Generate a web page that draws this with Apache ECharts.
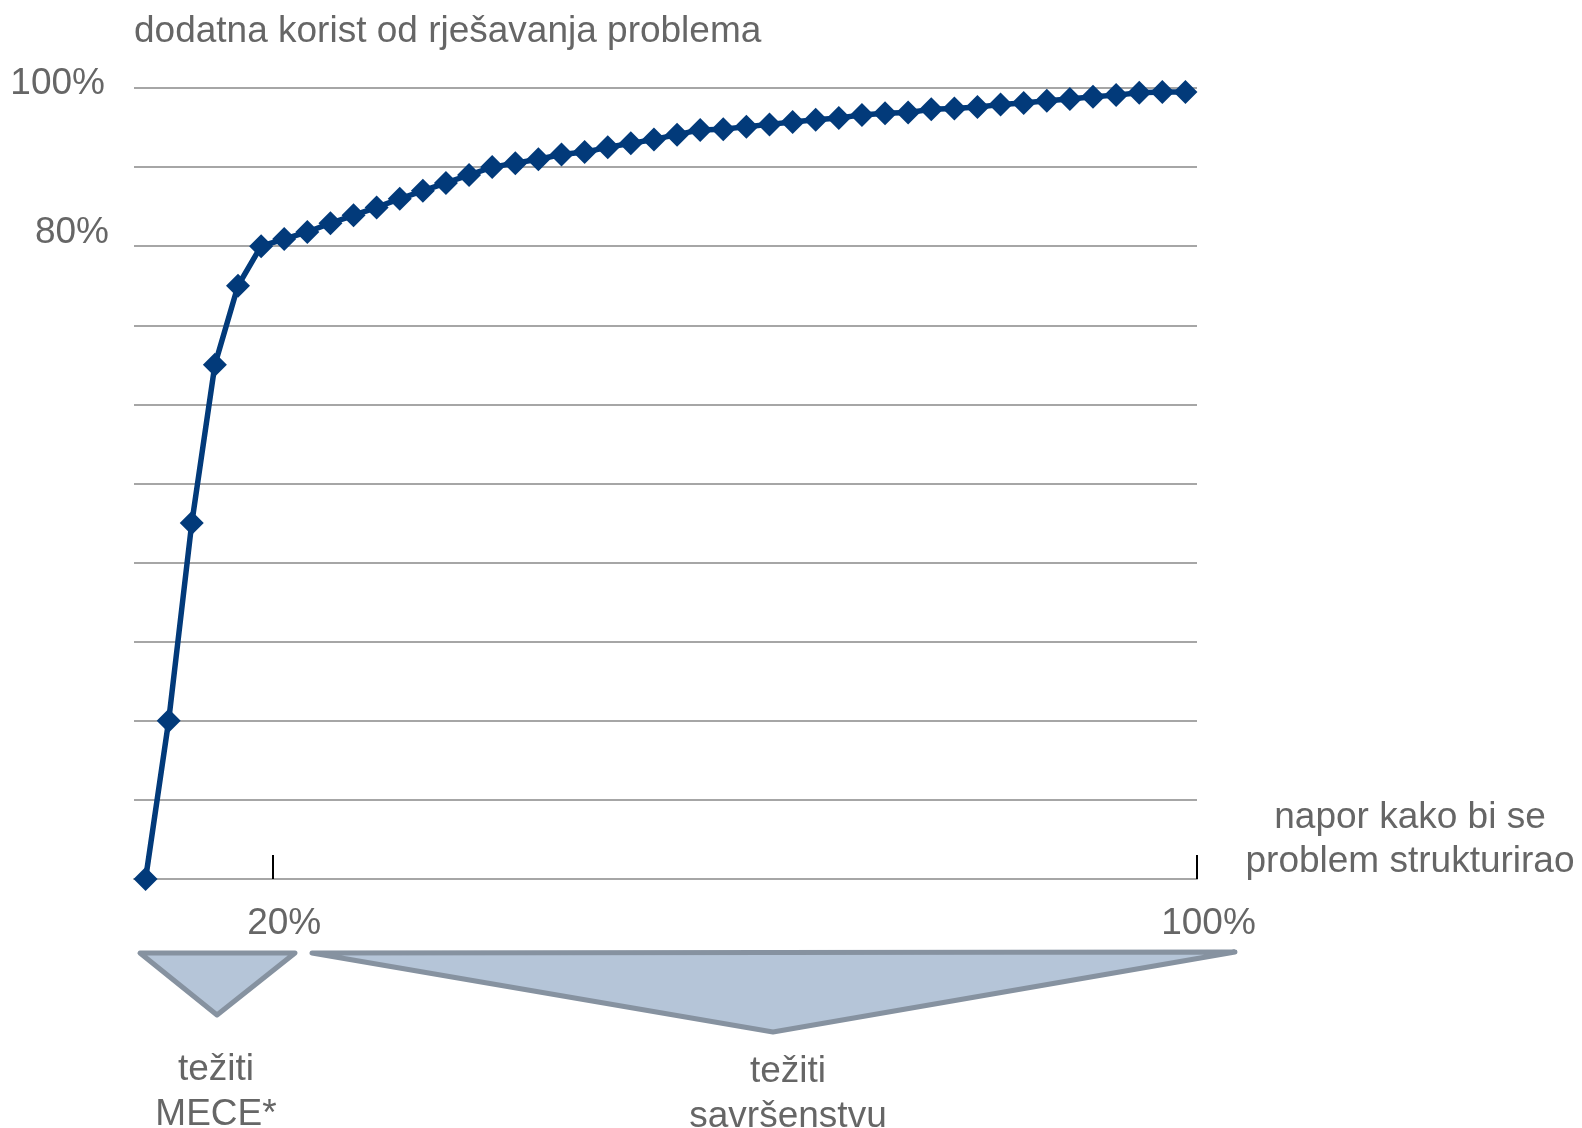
<!DOCTYPE html>
<html>
<head>
<meta charset="utf-8">
<script src="https://cdn.jsdelivr.net/npm/echarts@6/dist/echarts.min.js"></script>
<style>
html,body{margin:0;padding:0;background:#fff;}
#chart{width:1582px;height:1128px;}
</style>
</head>
<body>
<div id="chart"></div>
<script>
// effort steps (categories)
const categories = ['1','2','3','4','5','6','7','8','9','10','11','12','13','14','15','16','17','18','19','20','21','22','23','24','25','26','27','28','29','30','31','32','33','34','35','36','37','38','39','40','41','42','43','44','45','46'];
// additional benefit (%)
const benefit = [0,20,45,65,75,80,80.9,81.8,82.9,83.9,84.9,86.0,87.0,88.0,89.0,90.0,90.5,91.0,91.6,91.9,92.5,93.0,93.5,94.1,94.7,94.8,95.1,95.4,95.7,96.0,96.2,96.6,96.8,96.9,97.3,97.4,97.6,97.9,98.1,98.4,98.6,98.9,99.1,99.4,99.5,99.5];
// x tick positions (category boundaries) and their labels
const xTickPositions = [6, 46];
const xTickLabels = ['20%', '100%'];
// y labels shown
const yLabelValues = [80, 100];
const xAxisTitle = 'napor kako bi se\nproblem strukturirao';
const yAxisTitle = 'dodatna korist od rješavanja problema';

const gray = '#666666';
const font = 'Liberation Sans, Arial, Helvetica, sans-serif';
const fs = 37;

const chart = echarts.init(document.getElementById('chart'), null, {renderer: 'canvas'});
chart.setOption({
  animation: false,
  backgroundColor: '#ffffff',
  grid: {left: 134, right: 385, top: 88, bottom: 249, containLabel: false},
  xAxis: [
    {
      type: 'category',
      data: categories,
      boundaryGap: true,
      axisLine: {show: true, lineStyle: {color: '#a6a6a6', width: 2}},
      axisTick: {show: false},
      axisLabel: {show: false},
      splitLine: {show: false}
    },
    {
      type: 'value',
      min: 0,
      max: categories.length,
      position: 'bottom',
      axisLine: {show: false},
      splitLine: {show: false},
      axisTick: {
        show: true, inside: true, length: 24,
        customValues: xTickPositions,
        lineStyle: {color: '#000000', width: 2}
      },
      axisLabel: {
        show: true,
        customValues: xTickPositions,
        margin: 26,
        formatter: function (v) {
          const i = xTickPositions.indexOf(v);
          return i >= 0 ? xTickLabels[i] : '';
        },
        fontFamily: font, fontSize: fs, color: gray,
        padding: [0, 0, 0, 23]
      }
    }
  ],
  yAxis: {
    type: 'value',
    min: 0,
    max: 100,
    interval: 10,
    axisLine: {show: false},
    axisTick: {show: false},
    splitLine: {show: true, lineStyle: {color: '#a6a6a6', width: 2}},
    axisLabel: {
      margin: 25,
      formatter: function (v) {
        if (yLabelValues.indexOf(v) < 0) return '';
        return v === 100 ? '{a|' + v + '%}' : '{b|' + v + '%}';
      },
      rich: {
        a: {fontFamily: font, fontSize: fs, color: gray, padding: [0, 4, 8, 0]},
        b: {fontFamily: font, fontSize: fs, color: gray, padding: [0, 0, 26, 0]}
      }
    },
    name: yAxisTitle,
    nameLocation: 'end',
    nameGap: 56,
    nameMoveOverlap: false,
    nameTextStyle: {
      fontFamily: font, fontSize: fs, color: gray,
      align: 'left', verticalAlign: 'middle'
    }
  },
  series: [{
    type: 'line',
    xAxisIndex: 0,
    yAxisIndex: 0,
    data: benefit,
    showSymbol: true,
    showAllSymbol: true,
    symbol: 'diamond',
    symbolSize: 24,
    lineStyle: {color: '#023a7a', width: 5.5},
    itemStyle: {color: '#023a7a'},
    z: 5
  }],
  graphic: [
    {
      type: 'text',
      x: 1410, y: 840,
      style: {
        text: xAxisTitle, fill: gray, font: fs + 'px ' + font,
        align: 'center', verticalAlign: 'middle', lineHeight: 44
      }
    },
    {
      type: 'polygon',
      shape: {points: [[140, 953], [295, 953], [217, 1015]]},
      style: {fill: '#b5c5d8', stroke: '#8692a0', lineWidth: 5, lineJoin: 'round'}
    },
    {
      type: 'polygon',
      shape: {points: [[312, 953], [1235, 952], [773, 1032]]},
      style: {fill: '#b5c5d8', stroke: '#8692a0', lineWidth: 5, lineJoin: 'round'}
    },
    {
      type: 'text',
      x: 216, y: 1092,
      style: {
        text: 'težiti\nMECE*', fill: gray, font: fs + 'px ' + font,
        align: 'center', verticalAlign: 'middle', lineHeight: 45
      }
    },
    {
      type: 'text',
      x: 788, y: 1094,
      style: {
        text: 'težiti\nsavršenstvu', fill: gray, font: fs + 'px ' + font,
        align: 'center', verticalAlign: 'middle', lineHeight: 45
      }
    }
  ]
});
</script>
</body>
</html>
